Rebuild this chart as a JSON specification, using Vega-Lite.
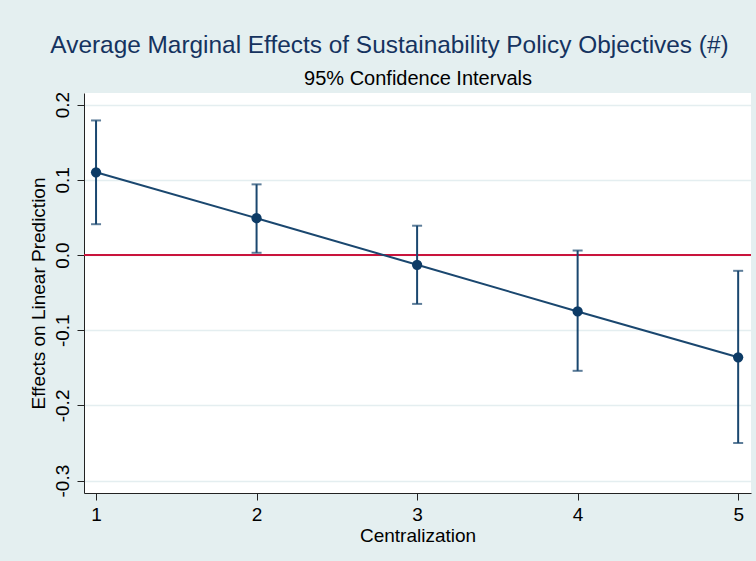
{
  "$schema": "https://vega.github.io/schema/vega-lite/v6.json",
  "width": 667,
  "height": 400,
  "autosize": {"type": "none"},
  "padding": {"left": 84, "top": 93, "right": 5, "bottom": 68},
  "background": "#E4EFF0",
  "title": {
    "text": "Average Marginal Effects of Sustainability Policy Objectives (#)",
    "font": "Liberation Sans",
    "fontSize": 24.4,
    "fontWeight": "normal",
    "color": "#15335F",
    "anchor": "middle",
    "dx": -28,
    "baseline": "alphabetic",
    "offset": -9
  },
  "config": {
    "view": {"stroke": null, "fill": "white"},
    "font": "Liberation Sans",
    "axis": {
      "labelFont": "Liberation Sans",
      "titleFont": "Liberation Sans",
      "labelColor": "black",
      "titleColor": "black",
      "titleFontWeight": "normal",
      "domainColor": "#222222",
      "tickColor": "#222222",
      "tickSize": 7,
      "labelFontSize": 19,
      "titleFontSize": 19
    }
  },
  "data": {
    "values": [
      {"centralization": 1, "est": 0.110, "lo": 0.041, "hi": 0.179},
      {"centralization": 2, "est": 0.049, "lo": 0.003, "hi": 0.094},
      {"centralization": 3, "est": -0.013, "lo": -0.065, "hi": 0.039},
      {"centralization": 4, "est": -0.075, "lo": -0.154, "hi": 0.006},
      {"centralization": 5, "est": -0.136, "lo": -0.250, "hi": -0.021}
    ]
  },
  "resolve": {"axis": {"x": "independent", "y": "independent"}},
  "layer": [
    {
      "mark": {"type": "rule", "color": "white", "opacity": 0},
      "encoding": {
        "x": {
          "field": "centralization",
          "type": "quantitative",
          "scale": {"domain": [0.925, 5.08], "nice": false, "zero": false},
          "axis": {
            "orient": "top",
            "title": "95% Confidence Intervals",
            "titleFontSize": 20,
            "titlePadding": 9,
            "titleBaseline": "alphabetic",
            "labels": false,
            "ticks": false,
            "domain": false,
            "grid": false
          }
        },
        "y": {
          "field": "est",
          "type": "quantitative",
          "scale": {"domain": [-0.3165, 0.2155], "nice": false, "zero": false},
          "axis": {
            "title": "Effects on Linear Prediction",
            "values": [0.2, 0.1, 0, -0.1, -0.2, -0.3],
            "labelExpr": "replace(format(datum.value, '.1f'), '\u2212', '-')",
            "labelAngle": -90,
            "labelAlign": "center",
            "labelBaseline": "bottom",
            "labelPadding": 5,
            "titlePadding": 5,
            "grid": true,
            "gridColor": "#E4EEF0",
            "gridWidth": 1.5,
            "domainWidth": 1
          }
        }
      }
    },
    {
      "mark": {"type": "rule", "color": "#C8143C", "strokeWidth": 1.5},
      "encoding": {"y": {"datum": 0, "axis": null}}
    },
    {
      "mark": {"type": "rule", "color": "#1A476F", "strokeWidth": 2},
      "encoding": {
        "x": {
          "field": "centralization",
          "type": "quantitative",
          "axis": {
            "orient": "bottom",
            "title": "Centralization",
            "values": [1, 2, 3, 4, 5],
            "format": "d",
            "labelPadding": 5,
            "titlePadding": 2,
            "grid": false,
            "domainWidth": 1
          }
        },
        "y": {"field": "lo", "type": "quantitative", "axis": null},
        "y2": {"field": "hi"}
      }
    },
    {
      "mark": {"type": "tick", "orient": "horizontal", "color": "#1A476F", "size": 10, "thickness": 2},
      "encoding": {
        "x": {"field": "centralization", "type": "quantitative", "axis": null},
        "y": {"field": "lo", "type": "quantitative", "axis": null}
      }
    },
    {
      "mark": {"type": "tick", "orient": "horizontal", "color": "#1A476F", "size": 10, "thickness": 2},
      "encoding": {
        "x": {"field": "centralization", "type": "quantitative", "axis": null},
        "y": {"field": "hi", "type": "quantitative", "axis": null}
      }
    },
    {
      "mark": {"type": "line", "color": "#1A476F", "strokeWidth": 2},
      "encoding": {
        "x": {"field": "centralization", "type": "quantitative", "axis": null},
        "y": {"field": "est", "type": "quantitative", "axis": null}
      }
    },
    {
      "mark": {"type": "point", "filled": true, "color": "#0D3B66", "opacity": 1, "size": 105},
      "encoding": {
        "x": {"field": "centralization", "type": "quantitative", "axis": null},
        "y": {"field": "est", "type": "quantitative", "axis": null}
      }
    }
  ]
}
